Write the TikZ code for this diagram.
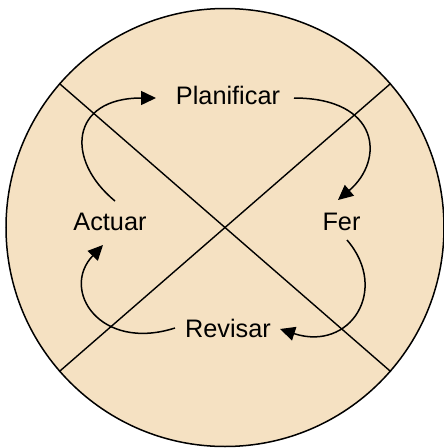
\documentclass[tikz,border=0pt]{standalone}
\usepackage{fontspec}
\setmainfont{Liberation Sans}
\usetikzlibrary{arrows.meta}
\definecolor{beige}{RGB}{245,225,194}
\tikzset{
  lbl/.style={anchor=base, inner sep=0pt, font=\fontsize{25.3}{30}\selectfont},
  arr/.style={line width=1.5pt, -{Triangle[length=15pt,width=14pt]}},
  cross/.style={line width=1.4pt},
}
\begin{document}
\begin{tikzpicture}[x=1pt,y=-1pt]
\useasboundingbox (0,0) rectangle (444,448);
\node[circle, draw, line width=1.5pt, fill=beige, minimum size=438pt, inner sep=0pt] (disc) at (225,227.5) {};
\draw[cross] (disc.139) -- (disc.-41);
\draw[cross] (disc.41) -- (disc.-139);
\node[lbl] (plan) at (228,104) {Planificar};
\node[lbl] (act) at (110,230) {Actuar};
\node[lbl] (fer) at (341.5,230) {Fer};
\node[lbl] (rev) at (228,337) {Revisar};
\coordinate (a1) at (115,201);
\coordinate (p1) at (156,98);
\coordinate (p2) at (294,98);
\coordinate (f1) at (338,200);
\coordinate (f2) at (347,240);
\coordinate (r1) at (280,329);
\coordinate (r2) at (175,328);
\coordinate (a2) at (103,245);
\draw[arr] (a1) .. controls (65,160) and (70,98) .. (p1);
\draw[arr] (p2) .. controls (380,98) and (385,160) .. (f1);
\draw[arr] (f2) .. controls (390,290) and (350,352) .. (r1);
\draw[arr] (r2) .. controls (100,352) and (60,290) .. (a2);
\end{tikzpicture}
\end{document}
